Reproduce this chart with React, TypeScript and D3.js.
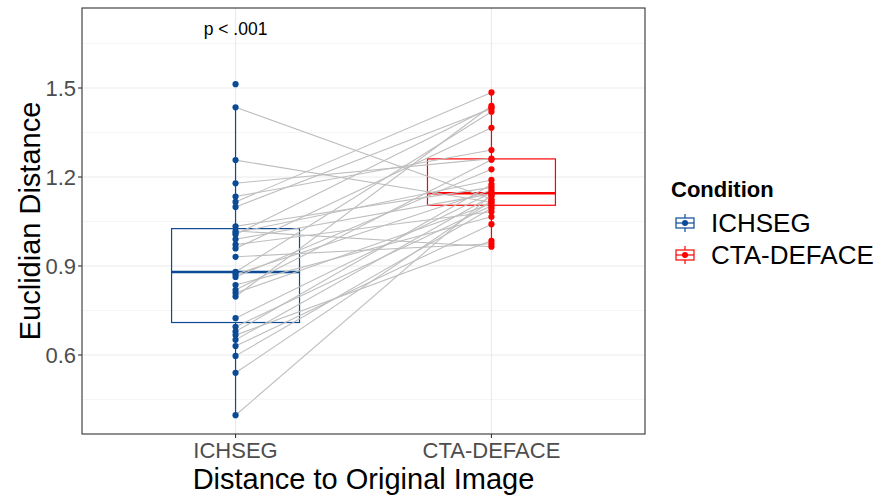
import React from 'react';
import * as d3 from 'd3';

// paired measurements, one entry per subject (null = no CTA-DEFACE value)
const conditions = ['ICHSEG', 'CTA-DEFACE'];
const ichsegValues = [
  1.513, 1.435, 1.257, 1.179, 1.134, 1.116, 1.099, 1.034, 1.018, 1.012, 1.006,
  0.99, 0.972, 0.959, 0.931, 0.88, 0.872, 0.863, 0.836, 0.819, 0.809, 0.797,
  0.724, 0.695, 0.679, 0.667, 0.651, 0.63, 0.597, 0.54, 0.397,
];
const ctaValues: (number | null)[] = [
  null, 1.125, 1.115, 1.262, 1.291, 1.485, 1.43, 1.165, 0.965, 1.19, 1.435,
  1.143, 1.083, 1.366, 0.975, 1.42, 1.155, 1.226, 1.066, 1.258, 1.11, 1.44,
  1.147, 1.103, 1.175, 0.985, 1.135, 1.041, 1.095, 1.12, 1.14,
];
const yTicks = [0.6, 0.9, 1.2, 1.5];
const yMinor = [0.45, 0.75, 1.05, 1.35, 1.65];
const colors = ['#0B4A94', '#FF0000'];

const W = 877;
const H = 496;
const panel = { left: 82, right: 645, top: 8, bottom: 434 };
const font = '"Liberation Sans", Arial, sans-serif';

function boxStats(vals: number[]) {
  const s = vals.slice().sort(d3.ascending);
  const q1 = d3.quantile(s, 0.25)!;
  const med = d3.quantile(s, 0.5)!;
  const q3 = d3.quantile(s, 0.75)!;
  const iqr = q3 - q1;
  const lo = d3.min(s.filter(v => v >= q1 - 1.5 * iqr))!;
  const hi = d3.max(s.filter(v => v <= q3 + 1.5 * iqr))!;
  return { q1, med, q3, lo, hi };
}

export default function App() {
  const x = d3.scaleLinear().domain([0.4, 2.6]).range([panel.left, panel.right]);
  const y = d3.scaleLinear().domain([1.5, 0.6]).range([88, 355]);

  const series = [ichsegValues, ctaValues.filter((v): v is number => v != null)];
  const stats = series.map(boxStats);
  const pairs = ichsegValues
    .map((v, i) => [v, ctaValues[i]] as [number, number | null])
    .filter(p => p[1] != null) as [number, number][];
  const line = d3.line<[number, number]>().x(d => d[0]).y(d => d[1]);

  return (
    <svg width={W} height={H} style={{ position: 'absolute', left: 0, top: 0, background: '#fff' }}>
      {/* grid */}
      {yMinor.map(t => (
        <line key={'m' + t} x1={panel.left} x2={panel.right} y1={y(t)} y2={y(t)} stroke="#f2f2f2" strokeWidth={0.8} />
      ))}
      {yTicks.map(t => (
        <line key={'g' + t} x1={panel.left} x2={panel.right} y1={y(t)} y2={y(t)} stroke="#ebebeb" strokeWidth={1.2} />
      ))}
      {conditions.map((c, i) => (
        <line key={'v' + c} x1={x(i + 1)} x2={x(i + 1)} y1={panel.top} y2={panel.bottom} stroke="#ebebeb" strokeWidth={1.2} />
      ))}

      {/* boxplots */}
      {stats.map((s, i) => {
        const cx = x(i + 1);
        const hw = x(1.25) - x(1);
        return (
          <g key={'b' + i} stroke={colors[i]} fill="none">
            <line x1={cx} x2={cx} y1={y(s.q3)} y2={y(s.hi)} strokeWidth={1.2} />
            <line x1={cx} x2={cx} y1={y(s.q1)} y2={y(s.lo)} strokeWidth={1.2} />
            <rect x={cx - hw} y={y(s.q3)} width={hw * 2} height={y(s.q1) - y(s.q3)} strokeWidth={1.2} />
            <line x1={cx - hw} x2={cx + hw} y1={y(s.med)} y2={y(s.med)} strokeWidth={2.6} />
          </g>
        );
      })}

      {/* paired lines */}
      {pairs.map((p, i) => (
        <path key={'l' + i} d={line([[x(1), y(p[0])], [x(2), y(p[1])]])!} stroke="#bebebe" strokeWidth={1.1} fill="none" />
      ))}

      {/* points */}
      {series.map((vals, i) =>
        vals.map((v, j) => <circle key={`p${i}-${j}`} cx={x(i + 1)} cy={y(v)} r={3.1} fill={colors[i]} />)
      )}

      {/* panel border */}
      <rect x={panel.left} y={panel.top} width={panel.right - panel.left} height={panel.bottom - panel.top} fill="none" stroke="#333" strokeWidth={1.1} />

      {/* y axis */}
      {yTicks.map(t => (
        <g key={'yt' + t}>
          <line x1={panel.left - 4} x2={panel.left} y1={y(t)} y2={y(t)} stroke="#333" strokeWidth={1.1} />
          <text x={panel.left - 6} y={y(t)} dy="0.36em" textAnchor="end" fontFamily={font} fontSize={22} fill="#4d4d4d">
            {t.toFixed(1)}
          </text>
        </g>
      ))}
      <text transform={`translate(40,${(panel.top + panel.bottom) / 2}) rotate(-90)`} textAnchor="middle" fontFamily={font} fontSize={29} fill="#000">
        Euclidian Distance
      </text>

      {/* x axis */}
      {conditions.map((c, i) => (
        <g key={'xt' + c}>
          <line x1={x(i + 1)} x2={x(i + 1)} y1={panel.bottom} y2={panel.bottom + 4} stroke="#333" strokeWidth={1.1} />
          <text x={x(i + 1)} y={458} textAnchor="middle" fontFamily={font} fontSize={22} fill="#4d4d4d">
            {c}
          </text>
        </g>
      ))}
      <text x={(panel.left + panel.right) / 2} y={489} textAnchor="middle" fontFamily={font} fontSize={29} fill="#000">
        Distance to Original Image
      </text>

      {/* annotation */}
      <text x={x(1)} y={35} textAnchor="middle" fontFamily={font} fontSize={17.5} fill="#000">
        p &lt; .001
      </text>

      {/* legend */}
      <text x={671} y={197} fontFamily={font} fontSize={22} fontWeight="bold" fill="#000">
        Condition
      </text>
      {conditions.map((c, i) => {
        const cy = 223 + i * 32;
        const lx = 685;
        return (
          <g key={'lg' + c}>
            <g stroke={colors[i]} fill="none" strokeWidth={1.2}>
              <line x1={lx} x2={lx} y1={cy - 9} y2={cy - 5} />
              <line x1={lx} x2={lx} y1={cy + 5} y2={cy + 9} />
              <rect x={lx - 9} y={cy - 5} width={18} height={10} />
              <line x1={lx - 9} x2={lx + 9} y1={cy} y2={cy} />
            </g>
            <circle cx={lx} cy={cy} r={3} fill={colors[i]} />
            <text x={711} y={cy} dy="0.36em" fontFamily={font} fontSize={26} fill="#000">
              {c}
            </text>
          </g>
        );
      })}
    </svg>
  );
}
